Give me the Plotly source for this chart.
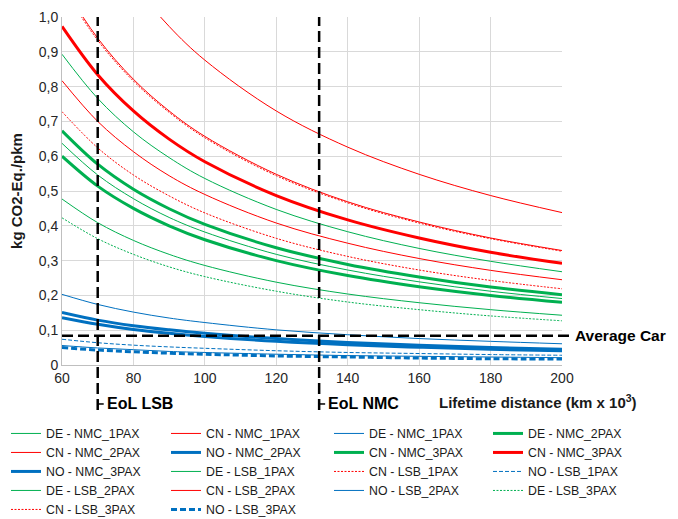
import plotly.graph_objects as go

# ---------------- data ----------------
DIST = [60, 70, 80, 90, 100, 120, 140, 160, 180, 200]   # lifetime distance, km x 10^3

DE_NMC_1 = [0.893, 0.766, 0.670, 0.596, 0.536, 0.447, 0.383, 0.335, 0.298, 0.268]
DE_NMC_2 = [0.673, 0.577, 0.505, 0.449, 0.404, 0.337, 0.289, 0.253, 0.224, 0.202]
DE_NMC_3 = [0.600, 0.514, 0.450, 0.400, 0.360, 0.300, 0.257, 0.225, 0.200, 0.180]
DE_LSB_1 = [0.637, 0.546, 0.478, 0.424, 0.382, 0.318, 0.273, 0.239, 0.212, 0.191]
DE_LSB_2 = [0.477, 0.409, 0.358, 0.318, 0.286, 0.238, 0.204, 0.179, 0.159, 0.143]
DE_LSB_3 = [0.423, 0.363, 0.318, 0.282, 0.254, 0.212, 0.181, 0.159, 0.141, 0.127]

CN_NMC_1 = [1.460, 1.251, 1.095, 0.973, 0.876, 0.730, 0.626, 0.548, 0.487, 0.438]
CN_NMC_2 = [1.095, 0.939, 0.821, 0.730, 0.657, 0.548, 0.469, 0.411, 0.365, 0.329]
CN_NMC_3 = [0.973, 0.834, 0.730, 0.649, 0.584, 0.487, 0.417, 0.365, 0.324, 0.292]
CN_LSB_1 = [1.088, 0.933, 0.816, 0.726, 0.653, 0.544, 0.466, 0.408, 0.363, 0.327]
CN_LSB_2 = [0.817, 0.700, 0.613, 0.544, 0.490, 0.408, 0.350, 0.306, 0.272, 0.245]
CN_LSB_3 = [0.728, 0.624, 0.546, 0.486, 0.437, 0.364, 0.312, 0.273, 0.243, 0.219]

NO_NMC_1 = [0.203, 0.174, 0.152, 0.135, 0.122, 0.101, 0.087, 0.076, 0.068, 0.061]
NO_NMC_2 = [0.151, 0.129, 0.113, 0.101, 0.091, 0.076, 0.065, 0.057, 0.050, 0.045]
NO_NMC_3 = [0.136, 0.117, 0.102, 0.091, 0.082, 0.068, 0.058, 0.051, 0.045, 0.041]
NO_LSB_1 = [0.074, 0.064, 0.057, 0.052, 0.048, 0.041, 0.036, 0.033, 0.030, 0.028]
NO_LSB_2 = [0.056, 0.049, 0.044, 0.039, 0.036, 0.031, 0.027, 0.025, 0.023, 0.021]
NO_LSB_3 = [0.050, 0.043, 0.038, 0.034, 0.031, 0.026, 0.023, 0.020, 0.018, 0.017]

EOL_LSB = 70      # km x 10^3
EOL_NMC = 132     # km x 10^3
AVG_CAR = 0.084   # kg CO2-Eq./pkm

X_TICKS = [60, 80, 100, 120, 140, 160, 180, 200]
Y_TICKS = [0, 0.1, 0.2, 0.3, 0.4, 0.5, 0.6, 0.7, 0.8, 0.9, 1.0]
Y_TICK_LABELS = ["0", "0,1", "0,2", "0,3", "0,4", "0,5", "0,6", "0,7", "0,8", "0,9", "1,0"]

# legend labels exactly as they appear in the reference (in legend order)
LABELS = ["DE - NMC_1PAX", "CN - NMC_1PAX", "DE - NMC_1PAX", "DE - NMC_2PAX",
          "CN - NMC_2PAX", "NO - NMC_2PAX", "CN - NMC_3PAX", "CN - NMC_3PAX",
          "NO - NMC_3PAX", "DE - LSB_1PAX", "CN - LSB_1PAX", "NO - LSB_1PAX",
          "DE - LSB_2PAX", "CN - LSB_2PAX", "NO - LSB_2PAX", "DE - LSB_3PAX",
          "CN - LSB_3PAX", "NO - LSB_3PAX"]
VALUES = [DE_NMC_1, CN_NMC_1, NO_NMC_1, DE_NMC_2,
          CN_NMC_2, NO_NMC_2, DE_NMC_3, CN_NMC_3,
          NO_NMC_3, DE_LSB_1, CN_LSB_1, NO_LSB_1,
          DE_LSB_2, CN_LSB_2, NO_LSB_2, DE_LSB_3,
          CN_LSB_3, NO_LSB_3]

# ---------------- styles ----------------
GREEN, RED, BLUE = "#00B050", "#FF0000", "#0070C0"
DOT = "2px,1.5px"
STYLES = [
    (GREEN, 1, "solid"), (RED, 1, "solid"), (BLUE, 1, "solid"), (GREEN, 3, "solid"),
    (RED, 1, "solid"), (BLUE, 3, "solid"), (GREEN, 3, "solid"), (RED, 3, "solid"),
    (BLUE, 3, "solid"), (GREEN, 1, "solid"), (RED, 1, DOT), (BLUE, 1, "4px,2px"),
    (GREEN, 1, "solid"), (RED, 1, "solid"), (BLUE, 1, "solid"), (GREEN, 1, DOT),
    (RED, 1, DOT), (BLUE, 3, "6px,3px"),
]
LEGEND_IDS = ["legend", "legend2", "legend3", "legend4"]

FONT = "Liberation Sans, Arial, sans-serif"

fig = go.Figure()
for i, (name, vals, (color, width, dash)) in enumerate(zip(LABELS, VALUES, STYLES)):
    fig.add_trace(go.Scatter(
        x=DIST, y=vals, mode="lines", name=name,
        line=dict(color=color, width=width, dash=dash, shape="spline", smoothing=1.0),
        legend=LEGEND_IDS[i % 4],
    ))

X_MIN, X_MAX = 60, 200
Y_MIN, Y_MAX = 0, 1.0


def px_x(v):
    return (v - X_MIN) / (X_MAX - X_MIN)


def px_y(v):
    return (v - Y_MIN) / (Y_MAX - Y_MIN)


BLACK_DASH = dict(color="black", width=2.5, dash="11px,5px")
shapes = []
for xv in (EOL_LSB, EOL_NMC):
    shapes.append(dict(type="line", xref="paper", yref="paper",
                       x0=px_x(xv), x1=px_x(xv), y0=-0.129, y1=1.0, line=BLACK_DASH))
    shapes.append(dict(type="line", xref="paper", yref="paper",
                       x0=px_x(xv), x1=px_x(xv) + 0.012, y0=-0.112, y1=-0.112,
                       line=dict(color="black", width=1.5)))
shapes.append(dict(type="line", xref="paper", yref="paper",
                   x0=0, x1=1.022, y0=px_y(AVG_CAR), y1=px_y(AVG_CAR), line=BLACK_DASH))

annotations = [
    dict(text="<b>EoL LSB</b>", xref="paper", yref="paper", x=px_x(EOL_LSB) + 0.014, y=-0.112,
         xanchor="left", yanchor="middle", showarrow=False, font=dict(size=16, color="black")),
    dict(text="<b>EoL NMC</b>", xref="paper", yref="paper", x=px_x(EOL_NMC) + 0.014, y=-0.112,
         xanchor="left", yanchor="middle", showarrow=False, font=dict(size=16, color="black")),
    dict(text="<b>Average Car</b>", xref="paper", yref="paper", x=1.022, y=px_y(AVG_CAR),
         xanchor="left", yanchor="middle", showarrow=False, font=dict(size=15.5, color="black")),
    dict(text="<b>Lifetime distance (km x 10<sup>3</sup>)</b>", xref="paper", yref="paper",
         x=0.750, y=-0.106, xanchor="left", yanchor="middle", showarrow=False,
         font=dict(size=15, color="#1a1a1a")),
]

# the page body has an 8px margin, so the figure itself starts at (8, 8)
PAGE_OFFSET = 8
PLOT_LEFT, PLOT_TOP, PLOT_W, PLOT_H = 62, 17, 500, 348
FIG_W, FIG_H = 678 - PAGE_OFFSET, 519 - PAGE_OFFSET
M_L = PLOT_LEFT - PAGE_OFFSET
M_T = PLOT_TOP - PAGE_OFFSET
M_R = FIG_W - M_L - PLOT_W
M_B = FIG_H - M_T - PLOT_H

legend_x_px = [6, 166, 329, 488]
legend_common = dict(orientation="v", yanchor="top", xanchor="left", y=-0.155,
                     bgcolor="rgba(0,0,0,0)", font=dict(size=12.3, color="#1a1a1a", family=FONT),
                     itemwidth=30, tracegroupgap=0)
legends = {}
for lid, lx in zip(LEGEND_IDS, legend_x_px):
    legends[lid] = dict(legend_common, x=(lx - PLOT_LEFT) / PLOT_W)

fig.update_layout(
    width=FIG_W, height=FIG_H,
    margin=dict(l=M_L, r=M_R, t=M_T, b=M_B, autoexpand=False),
    plot_bgcolor="white", paper_bgcolor="white",
    font=dict(family=FONT, size=14, color="#262626"),
    shapes=shapes, annotations=annotations,
    xaxis=dict(range=[X_MIN, X_MAX], tickvals=X_TICKS, showgrid=True, gridcolor="#D9D9D9",
               gridwidth=1, showline=True, linecolor="#BFBFBF", linewidth=1, zeroline=False,
               ticks="", tickfont=dict(size=14)),
    yaxis=dict(range=[Y_MIN, Y_MAX], tickvals=Y_TICKS, ticktext=Y_TICK_LABELS, showgrid=True,
               gridcolor="#D9D9D9", gridwidth=1, showline=True, linecolor="#BFBFBF", linewidth=1,
               zeroline=False, ticks="", tickfont=dict(size=14),
               title=dict(text="<b>kg CO2-Eq./pkm</b>", font=dict(size=15, color="#1a1a1a"),
                          standoff=12)),
    showlegend=True,
    **legends,
)

fig.write_html("out.html")
